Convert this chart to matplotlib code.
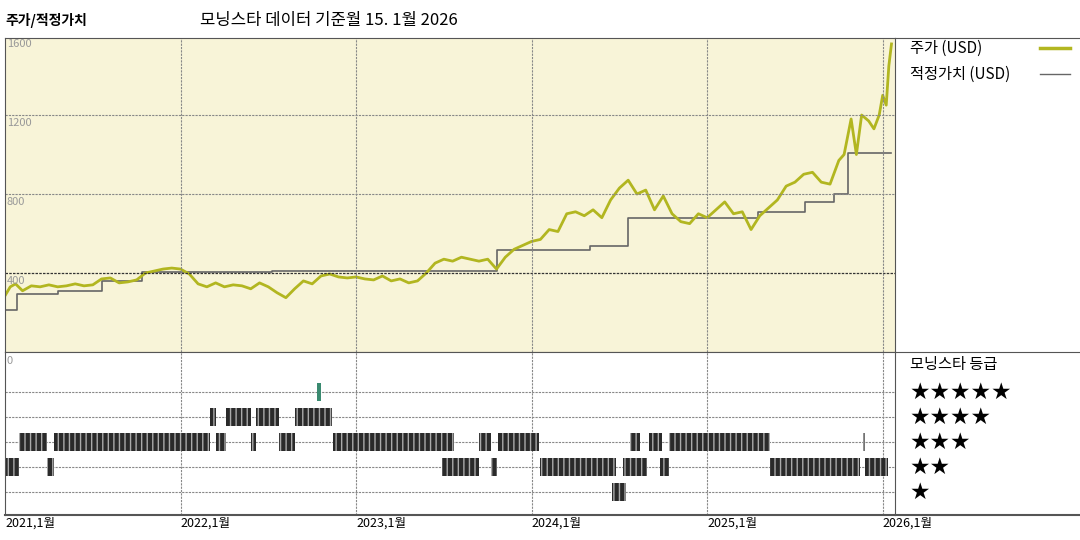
import matplotlib
matplotlib.use("Agg")
import matplotlib.pyplot as plt
from matplotlib.lines import Line2D

plt.rcParams['font.family'] = ['Noto Sans CJK KR', 'DejaVu Sans']

price_t = [2021.00,2021.03,2021.06,2021.10,2021.15,2021.20,2021.25,2021.30,2021.35,2021.40,2021.45,2021.50,2021.55,2021.60,2021.65,2021.70,2021.75,2021.80,2021.85,2021.90,2021.95,2022.00,2022.05,2022.10,2022.15,2022.20,2022.25,2022.30,2022.35,2022.40,2022.45,2022.50,2022.55,2022.60,2022.65,2022.70,2022.75,2022.80,2022.85,2022.90,2022.95,2023.00,2023.05,2023.10,2023.15,2023.20,2023.25,2023.30,2023.35,2023.40,2023.45,2023.50,2023.55,2023.60,2023.65,2023.70,2023.75,2023.80,2023.85,2023.90,2023.95,2024.00,2024.05,2024.10,2024.15,2024.20,2024.25,2024.30,2024.35,2024.40,2024.45,2024.50,2024.55,2024.60,2024.65,2024.70,2024.75,2024.80,2024.85,2024.90,2024.95,2025.00,2025.05,2025.10,2025.15,2025.20,2025.25,2025.30,2025.35,2025.40,2025.45,2025.50,2025.55,2025.60,2025.65,2025.70,2025.75,2025.78,2025.82,2025.85,2025.88,2025.92,2025.95,2025.98,2026.00,2026.02,2026.035,2026.05]
price_v = [285,330,345,310,335,330,340,330,335,345,335,340,370,375,350,355,365,400,410,420,425,420,395,345,330,350,330,340,335,320,350,330,300,275,320,360,345,385,395,380,375,380,370,365,385,360,370,350,360,400,450,470,460,480,470,460,470,420,480,520,540,560,570,620,610,700,710,690,720,680,770,830,870,800,820,720,790,700,660,650,700,680,720,760,700,710,620,690,730,770,840,860,900,910,860,850,970,1000,1180,1000,1200,1170,1130,1200,1300,1250,1450,1560]

fv_t = [2021.00,2021.07,2021.30,2021.55,2021.78,2022.52,2023.80,2024.33,2024.55,2025.29,2025.56,2025.72,2025.80,2026.05]
fv_v = [215,295,310,360,405,410,515,535,680,710,760,800,1010,1010]

rating_levels = [5,4,3,2,1]
rating_labels = ['★★★★★','★★★★','★★★','★★','★']
r5 = [(2022.78,2022.80)]
r4 = [(2022.17,2022.20),(2022.26,2022.40),(2022.43,2022.56),(2022.65,2022.86)]
r3 = [(2021.08,2021.24),(2021.28,2022.17),(2022.20,2022.26),(2022.40,2022.43),(2022.56,2022.65),(2022.87,2023.56),(2023.70,2023.77),(2023.81,2024.04),(2024.56,2024.62),(2024.67,2024.74),(2024.78,2025.36),(2025.89,2025.90)]
r2 = [(2021.00,2021.08),(2021.24,2021.28),(2023.49,2023.70),(2023.77,2023.80),(2024.05,2024.48),(2024.52,2024.66),(2024.73,2024.78),(2025.36,2025.87),(2025.90,2026.03)]
r1 = [(2024.46,2024.54)]

year_ticks = [2021,2022,2023,2024,2025,2026]
year_labels = ['2021,1월','2022,1월','2023,1월','2024,1월','2025,1월','2026,1월']
y_ticks = [0,400,800,1200,1600]

PRICE_C = '#b2b620'
FV_C = '#666666'
XMIN, XMAX = 2021.0, 2026.07

fig = plt.figure(figsize=(10.8,5.4), dpi=100)
ax = fig.add_axes([5/1080, 188/540, 890/1080, 314/540])
ax2 = fig.add_axes([5/1080, 25/540, 890/1080, 163/540])

ax.set_facecolor('#f8f4d8')
ax.set_xlim(XMIN, XMAX)
ax.set_ylim(0, 1590)
ax.step(fv_t, fv_v, where='post', color=FV_C, lw=1.2)
ax.plot(price_t, price_v, color=PRICE_C, lw=2)
for yt in [800,1200]:
    ax.axhline(yt, color='#888888', lw=0.8, ls=(0,(2,1)))
ax.axhline(400, color='#333333', lw=0.9, ls=(0,(2,1)))
for xt in year_ticks[1:]:
    ax.axvline(xt, color='#888888', lw=0.8, ls=(0,(2,1)))
ax.set_xticks([]); ax.set_yticks([])
for yt in y_ticks[1:]:
    ax.text(XMIN+0.01, yt-15, str(yt), fontsize=8, color='#999999', va='top', ha='left')
for s in ax.spines.values():
    s.set_color('#555555'); s.set_linewidth(0.8)

ax2.set_xlim(XMIN, XMAX)
ax2.set_ylim(0.08, 6.6)
for lv in rating_levels:
    ax2.axhline(lv, color='#888888', lw=0.8, ls=(0,(2,1)), zorder=0)
for xt in year_ticks[1:]:
    ax2.axvline(xt, color='#888888', lw=0.8, ls=(0,(2,1)), zorder=0)
for lv, spans in zip(rating_levels, [r5,r4,r3,r2,r1]):
    col = '#3a8a70' if lv == 5 else '#2a2a2a'
    ax2.broken_barh([(a, b-a) for a, b in spans], (lv-0.35, 0.7),
                    facecolor=col, edgecolor='#aaaaaa' if lv != 5 else col,
                    hatch='|||' if lv != 5 else None, lw=0)
ax2.text(XMIN+0.01, 6.45, '0', fontsize=8, color='#999999', va='top')
ax2.set_yticks([])
ax2.set_xticks(year_ticks)
ax2.set_xticklabels(year_labels, fontsize=9)
for lab in ax2.get_xticklabels():
    lab.set_horizontalalignment('left')
ax2.tick_params(axis='x', length=0, pad=1)
for s in ax2.spines.values():
    s.set_color('#555555'); s.set_linewidth(0.8)
ax2.spines['bottom'].set_linewidth(1.5)

fig.add_artist(Line2D([895/1080, 1], [502/540, 502/540], color='#555555', lw=0.8))
fig.add_artist(Line2D([895/1080, 1], [188/540, 188/540], color='#555555', lw=0.8))
fig.add_artist(Line2D([895/1080, 1], [25/540, 25/540], color='#555555', lw=1.5))

fig.text(5/1080, 1-20/540, '주가/적정가치', fontsize=10, fontweight='bold', va='center')
fig.text(200/1080, 1-20/540, '모닝스타 데이터 기준월 15. 1월 2026', fontsize=12, va='center')
fig.text(910/1080, 1-48/540, '주가 (USD)', fontsize=11, va='center')
fig.add_artist(Line2D([1040/1080, 1070/1080], [1-48/540]*2, color=PRICE_C, lw=2.5))
fig.text(910/1080, 1-74/540, '적정가치 (USD)', fontsize=11, va='center')
fig.add_artist(Line2D([1040/1080, 1070/1080], [1-74/540]*2, color=FV_C, lw=1))
fig.text(910/1080, 1-364/540, '모닝스타 등급', fontsize=11, va='center')
for lv, lab in zip(rating_levels, rating_labels):
    fig.text(910/1080, 1-(392+(5-lv)*25)/540, lab, fontsize=16.5, va='center',
             family=['DejaVu Sans'])

fig.savefig('out.png', dpi=100)
